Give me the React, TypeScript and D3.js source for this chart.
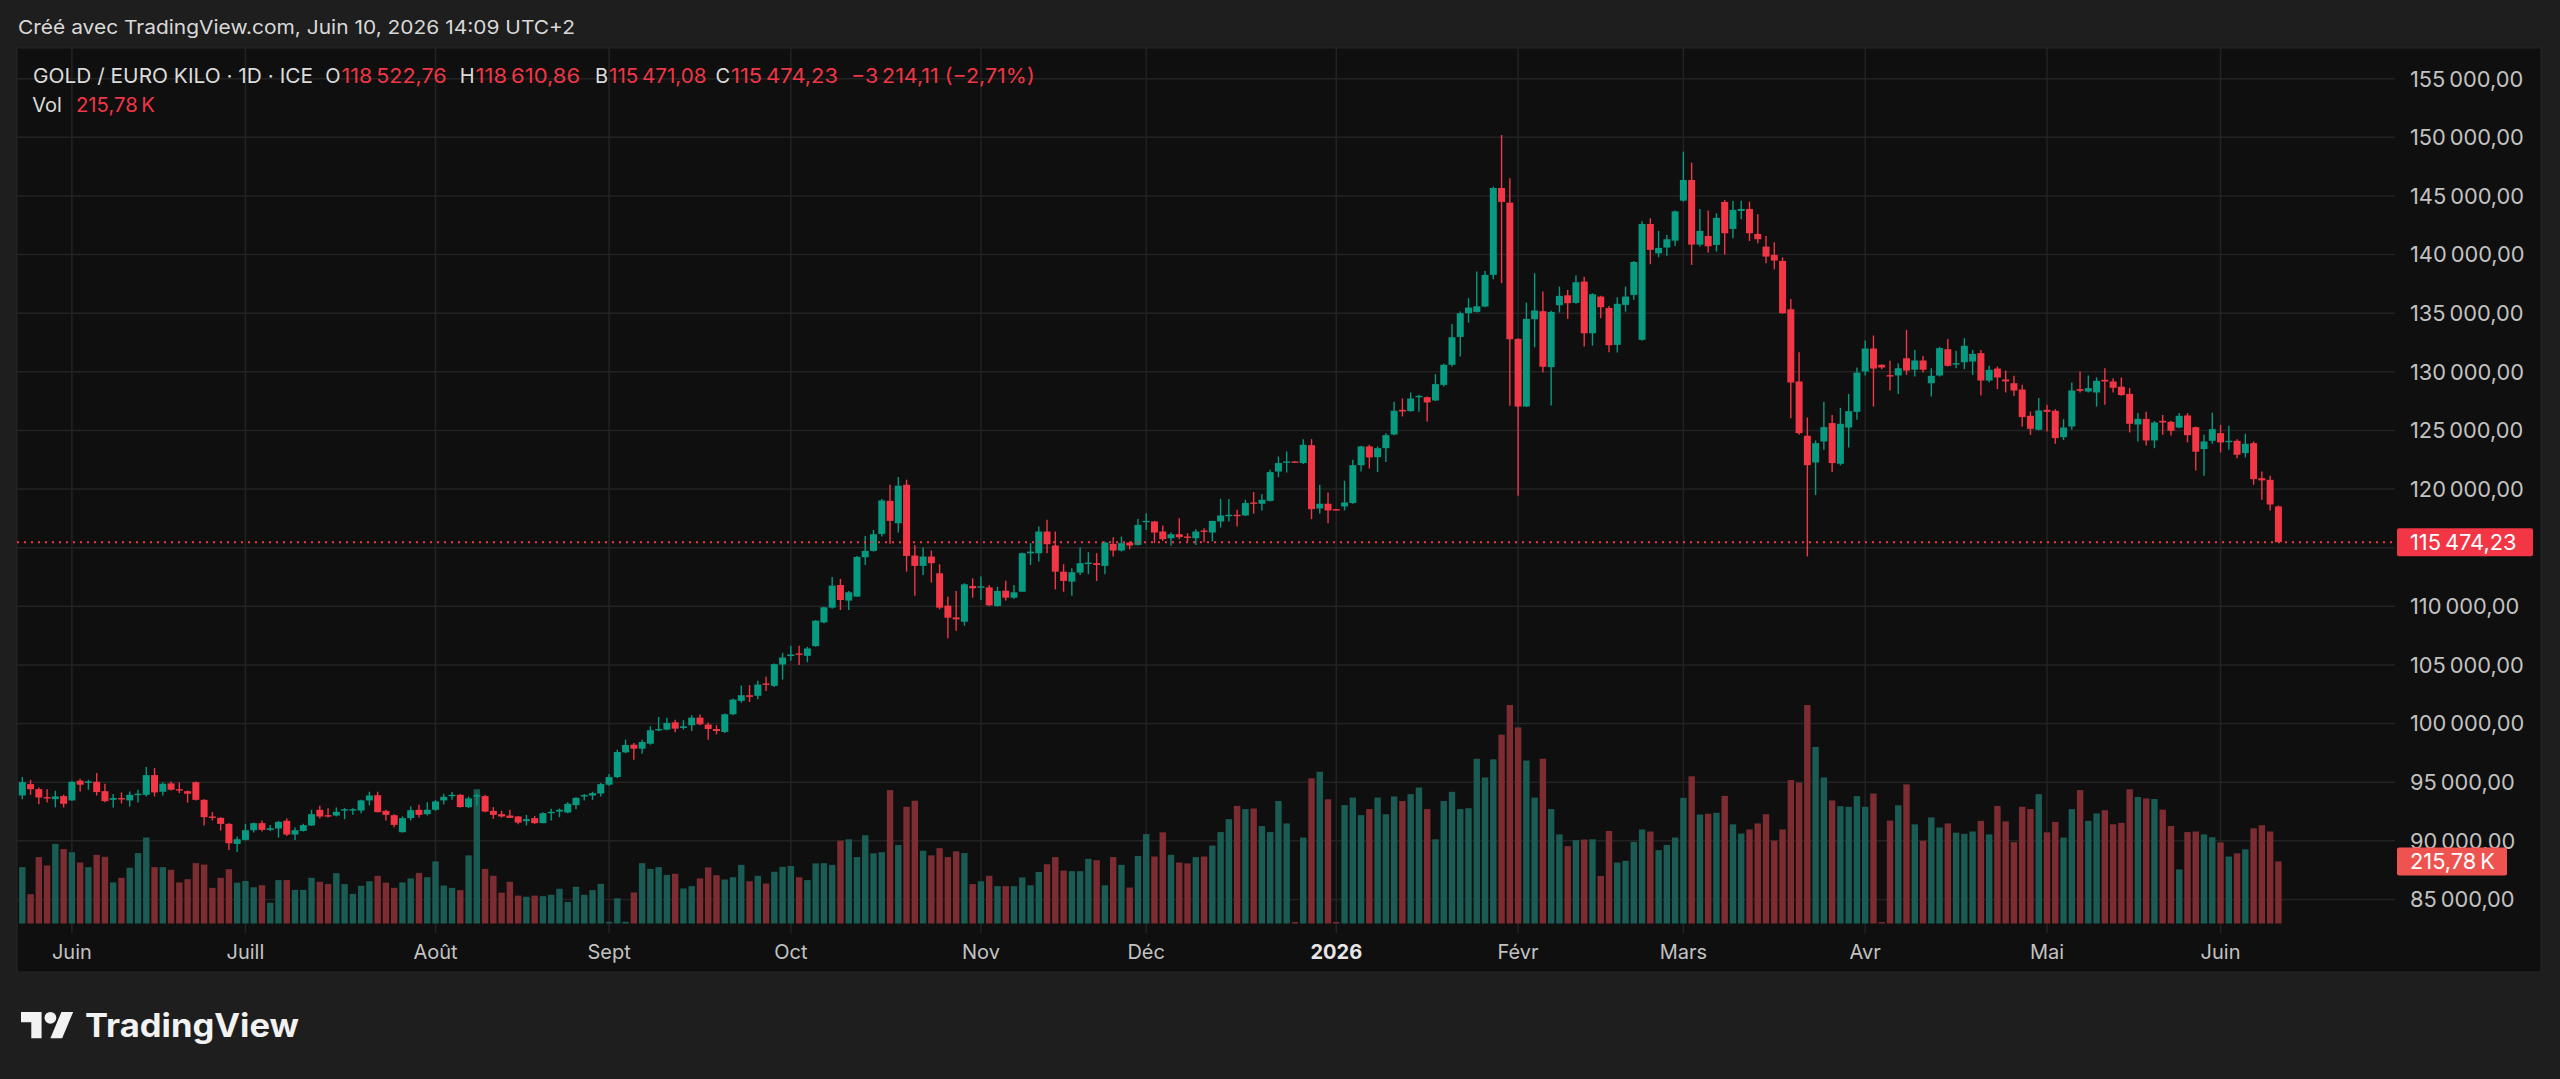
import React from "react";
import * as d3 from "d3";

// ---- Data ----
const opens = [
  93870,94840,94410,93730,93560,93820,93450,95130,94980,95040,
  94240,93500,93650,93450,93930,93930,95610,94190,94900,94410,
  94240,95010,93500,92080,91960,91450,89740,90080,90910,91510,
  90940,91050,91710,90540,90850,91310,92650,92190,92160,92590,
  92650,92590,93450,93900,92560,92190,90740,91940,92650,92280,
  92650,93450,93840,93930,92880,93820,93820,92560,92280,92160,
  92080,91680,91940,91510,92360,92500,92420,93050,93790,93870,
  94040,94790,95440,97550,98200,97860,98290,99430,99490,100110,
  99630,99860,100510,99920,99540,99290,100800,101940,102420,102370,
  103420,103220,105040,105760,105980,105780,106610,108630,109890,111820,
  110490,110830,114190,114730,116180,119000,117090,120370,114330,113450,
  114250,112820,110060,109060,108690,111740,111620,111620,110030,111340,
  110740,111250,114530,114530,116380,115190,112960,112110,112880,113620,
  113680,113450,115330,114760,115440,115240,117180,117240,116380,115810,
  116150,115960,115810,116470,116300,117240,117720,117810,117750,118860,
  118750,119000,121500,122270,122360,122220,123750,118350,118750,118290,
  118520,118810,122040,123640,122730,123490,124660,126760,126650,127840,
  127840,127560,128890,130600,132980,135000,135110,135570,138270,145680,
  144430,132810,127040,134490,135170,130400,135680,136530,135880,137700,
  133290,136420,135450,132300,135710,136560,132730,142610,140110,140600,
  141190,144600,146360,140850,141590,140820,144490,142190,143720,143890,
  141760,140680,139970,139460,135340,129180,124550,122270,124060,125630,
  122160,125250,126590,130030,131990,130600,129720,129690,131160,130180,
  130970,129030,129690,131930,130620,130820,130880,131590,129260,130280,
  129350,129030,128490,126250,125060,126760,126680,124430,125340,128520,
  128320,128240,129320,129180,128730,128120,125510,125990,124150,125820,
  125740,125250,126280,125280,123410,124120,124770,124010,124120,123070,
  123920,120930,120790,118522.76,
];
const highs = [
  95440,95210,94560,94410,94270,93930,95130,95300,95210,95780,
  94870,93990,94130,94220,94360,96300,96210,95010,95070,94980,
  94300,95070,93560,92470,92020,91510,90370,91450,91560,91740,
  91360,91710,91910,91140,91450,92650,92990,92790,92850,92790,
  92790,93500,94190,94190,92650,92280,92080,92930,93080,93300,
  93500,94020,94160,93990,93790,94070,93930,92880,92560,92650,
  92130,92220,92130,92450,92730,92760,93300,93730,93990,94190,
  94930,95700,97780,98630,98350,98630,99770,100570,100490,100340,
  100290,100710,100770,100090,99860,100860,102140,103250,103280,103650,
  103990,105130,106040,106640,106640,106550,108830,109970,112510,112340,
  111310,114300,116010,116520,119150,120370,121030,120800,115240,115010,
  114760,113590,110830,111310,111970,112390,112540,111820,111680,112190,
  111820,114590,115390,116810,117380,116380,113590,113250,115010,114620,
  114530,115530,115900,115960,115530,117440,117950,117290,116900,116300,
  117520,116240,116580,116670,117290,119170,119150,118230,119090,119740,
  119570,121650,122780,123210,122380,124260,124260,120370,119720,118300,
  120710,122500,123690,123780,123640,124770,127460,127730,128240,128040,
  127900,129800,130680,134090,135140,136280,138550,138610,145800,150200,
  146510,132870,135910,138410,136850,135200,137270,136990,138210,138120,
  136700,136500,135620,136360,137270,139450,142840,143100,142020,141680,
  143750,148780,147840,143890,143750,143520,144660,144570,144600,144520,
  143440,141590,141050,139770,136220,131680,126110,124150,127440,126330,
  126930,128120,130370,132670,133100,130650,130940,130740,133580,131870,
  131360,130310,132130,132810,131790,132870,131870,131870,130510,130450,
  130110,129660,128890,126620,127760,127190,126820,125970,129090,130030,
  129690,129520,130310,129460,129520,128610,126480,126590,125820,126330,
  125820,126480,126480,125340,124630,126530,125480,125400,124260,124720,
  124060,121510,121140,118610.86,
];
const lows = [
  93560,93930,93130,93270,92850,92850,93420,94220,94360,93870,
  93300,92850,93190,92930,93270,93790,93790,93870,94300,94070,
  93270,93450,91310,91740,90880,89230,89060,90030,90710,90800,
  90850,90280,90420,90080,90800,91280,91910,91990,92080,91850,
  92220,92360,93020,92420,91740,91170,90710,91740,91990,92160,
  92560,93100,93500,92850,92790,93020,92450,91880,91990,91940,
  91420,91310,91450,91510,91740,92020,92360,92700,93450,93500,
  93790,94700,95360,97490,96920,97440,98200,99350,99430,99260,
  99490,99370,99860,98630,99090,99200,100710,101770,101850,102080,
  102790,103130,103760,105360,104990,105240,106550,108550,109800,109690,
  109690,110830,113530,114670,115960,115330,116300,112960,110910,112680,
  112020,109740,107270,107920,108350,110740,110540,110030,109970,110490,
  110630,111250,113530,113820,114530,111450,111250,110910,112680,112740,
  112170,112740,114250,114670,114870,115190,116520,115390,115580,115160,
  115730,115530,115240,115470,115530,116720,117240,116810,117700,117910,
  118180,118950,121020,121420,122250,122150,117440,117910,117080,118200,
  118180,118750,121500,121760,121450,122320,124600,126190,126600,126590,
  125770,127500,128750,130450,131310,134200,135060,135500,137900,137560,
  127100,119430,127000,132100,129940,127130,135060,134520,135800,132160,
  132240,134570,131680,131650,135140,136140,132650,139180,139770,139910,
  140740,144520,139120,140680,140170,140260,140000,141390,143010,141160,
  140970,139260,138750,134950,126050,124630,114260,119490,123350,121450,
  122020,123550,125910,129690,127040,130230,128410,128120,129740,129600,
  129940,127900,129600,130450,130310,130230,129740,127980,129120,128520,
  128240,127930,125340,124620,125000,124910,123860,124180,125060,128240,
  128240,127040,127190,128240,127960,124830,124060,123720,123490,124630,
  124570,125200,123980,121590,121140,123860,123120,123350,122640,122700,
  120370,119090,118180,115471.08,
];
const closes = [
  95010,94410,93700,93620,93790,93160,95040,94790,95070,94160,
  93390,93650,93560,93930,94020,95610,94130,94870,94360,94300,
  94020,93500,92020,91990,91450,89800,90140,90910,91510,90940,
  91080,91620,90540,90910,91340,92280,92080,92080,92480,92700,
  92700,93450,93870,92450,92220,91360,91940,92620,92220,92650,
  93360,93760,93930,92880,93620,93900,92500,92220,92080,91960,
  91560,91850,91510,92360,92480,92650,93160,93670,93900,94070,
  94840,95440,97580,98180,97860,98430,99430,99540,100060,99570,
  99770,100510,99940,99540,99370,100800,102050,102420,102280,103330,
  103330,105070,105640,105900,105870,106410,108780,109920,111770,110540,
  111200,114220,114730,116150,119030,117290,120290,114300,113450,114250,
  113680,109890,109030,108890,111880,111540,111710,110090,111310,110740,
  111200,114530,114670,116380,115300,112960,112170,112910,113680,113730,
  113530,115440,114760,115390,115190,116950,117290,116300,115730,116150,
  115900,115870,116380,116380,117290,117750,117810,117720,118810,118750,
  119090,121450,122220,122360,122270,123780,118290,118750,118180,118210,
  118860,122040,123640,122700,123490,124600,126680,126620,127730,127950,
  127390,128950,130600,132950,135000,135480,135590,138270,145680,144490,
  132780,127040,134520,135230,130430,135110,136480,135850,137640,133290,
  136620,135510,132270,135800,136420,139370,142610,140400,140570,141310,
  143690,146360,140850,142020,140710,143130,141820,143810,143890,141820,
  141310,139830,139490,135000,129090,124770,122040,123920,125280,122220,
  125570,126650,129940,131990,130280,130370,129600,130310,130110,130970,
  130180,129660,132020,130510,130740,132220,131530,129260,130170,129520,
  129180,128410,126140,125140,126700,126590,124350,125250,128410,128380,
  128610,129230,129180,128640,128020,125570,125990,124150,125680,125680,
  124970,126250,124600,123190,124060,125110,123980,124120,122930,123860,
  120850,120740,118688.34,115474.23,
];
// volume in thousands
const volumesK = [
  196,102,231,202,277,259,248,212,196,239,
  232,143,159,194,245,299,196,196,187,143,
  154,210,205,124,159,189,142,148,126,133,
  72,151,151,117,117,159,145,137,175,137,
  103,131,147,166,142,124,143,157,176,161,
  216,132,124,116,237,467,190,166,107,145,
  97,93,97,95,100,121,75,128,100,116,
  138,6,88,6,108,210,190,196,169,173,
  122,130,157,195,168,153,161,204,147,166,
  139,180,197,200,161,151,209,210,204,288,
  293,231,307,244,248,464,273,406,427,253,
  237,262,231,251,245,137,147,166,130,130,
  130,160,133,179,206,231,184,182,182,225,
  220,133,231,204,125,235,311,233,317,239,
  212,209,231,233,271,318,363,409,398,400,
  339,318,426,348,5,299,505,528,432,5,
  412,438,377,398,438,380,442,426,450,473,
  398,293,426,458,398,401,573,508,571,657,
  760,682,567,438,573,398,310,269,290,292,
  293,165,322,212,218,284,327,320,255,273,
  299,437,512,379,382,385,444,345,313,327,
  348,380,288,327,499,490,760,614,508,428,
  408,406,443,406,452,5,358,411,484,345,
  288,369,334,348,316,312,320,357,310,409,
  355,283,406,398,450,317,353,299,398,464,
  357,383,394,345,350,467,440,435,433,396,
  339,188,318,320,310,300,282,233,244,258,
  331,342,320,215.78,
];
const monthLabels = ["Juin","Juill","Août","Sept","Oct","Nov","Déc","2026","Févr","Mars","Avr","Mai","Juin"];
const priceTicks = [85000,90000,95000,100000,105000,110000,115000,120000,125000,130000,135000,140000,145000,150000,155000];
const firstDay = new Date(2025, 4, 23);
const lastDay = new Date(2026, 5, 10);

const FONT = "Inter, 'Noto Sans', 'Liberation Sans', sans-serif";
const UP = "#089981";
const DOWN = "#f23645";
const VOL_UP = "#1a5b53";
const VOL_DOWN = "#7d2d31";
const GRID = "#232323";

const fr = d3.formatLocale({ decimal: ",", thousands: "\u202f", grouping: [3], currency: ["", ""], minus: "\u2212" });
const fmt2 = fr.format(",.2f");

export default function App() {
  const dates = d3.timeDay
    .range(firstDay, d3.timeDay.offset(lastDay, 1))
    .filter((d) => d.getDay() !== 0 && d.getDay() !== 6);
  const n = closes.length;

  const x = d3.scaleLinear().domain([0, n - 1]).range([22.3, 2278.4]);
  const y = d3.scaleLinear().domain([85000, 155000]).range([899.5, 78.7]);
  const yv = d3.scaleLinear().domain([0, 760]).range([923.5, 705]);

  const monthIdx: number[] = [];
  for (let i = 1; i < dates.length; i++) {
    if (dates[i].getMonth() !== dates[i - 1].getMonth()) monthIdx.push(i);
  }

  const plotLeft = 17, plotRight = 2395, plotTop = 48, plotBottom = 933;
  const last = n - 1;
  const lastClose = closes[last];
  const change = lastClose - closes[last - 1];
  const pct = (change / closes[last - 1]) * 100;
  const yLast = y(lastClose);
  const yVolLast = yv(volumesK[last]);

  const candleW = 7;
  const volW = 6.4;
  const axisFs = 21.8;

  // TradingView hides the axis label hidden behind the last-price label
  const visibleTicks = priceTicks.filter((p) => Math.abs(y(p) - yLast) > 16);

  const hdrY = 82.5;
  const pairs = [
    { k: "O", x: 341.6, v: opens[last], w: 105 },
    { k: "H", x: 475.6, v: highs[last], w: 104.5 },
    { k: "B", x: 609, v: lows[last], w: 97.5 },
    { k: "C", x: 731, v: lastClose, w: 107 },
  ];

  return (
    <div style={{ position: "absolute", left: 0, top: 0, width: 2560, height: 1079 }}>
      <svg width={2560} height={1079} style={{ display: "block", fontFamily: FONT }}>
        <rect x={0} y={0} width={2560} height={1079} fill="#1e1e1e" />
        <text x={18} y={34.3} fontSize={19} fill="#d8d8d8" textLength={557} lengthAdjust="spacingAndGlyphs">
          Créé avec TradingView.com, Juin 10, 2026 14:09 UTC+2
        </text>

        <rect x={17} y={48} width={2524} height={924} fill="#0f0f0f" stroke="#262626" strokeWidth={1} />

        {/* grid */}
        <g>
          {priceTicks.map((p) => (
            <line key={"h" + p} x1={plotLeft} x2={plotRight} y1={y(p)} y2={y(p)} stroke={GRID} strokeWidth={1.5} />
          ))}
          {monthIdx.map((i) => (
            <line key={"v" + i} x1={x(i)} x2={x(i)} y1={plotTop} y2={plotBottom} stroke={GRID} strokeWidth={1.5} />
          ))}
        </g>

        {/* volume */}
        <g>
          {volumesK.map((v, i) => (
            <rect
              key={"vol" + i}
              x={x(i) - volW / 2}
              y={yv(v)}
              width={volW}
              height={Math.max(yv(0) - yv(v), 1)}
              fill={closes[i] >= opens[i] ? VOL_UP : VOL_DOWN}
            />
          ))}
        </g>

        {/* candles */}
        <g>
          {closes.map((c, i) => {
            const o = opens[i];
            const col = c >= o ? UP : DOWN;
            const top = y(Math.max(o, c));
            const bot = y(Math.min(o, c));
            return (
              <g key={"c" + i}>
                <line x1={x(i)} x2={x(i)} y1={y(highs[i])} y2={y(lows[i])} stroke={col} strokeWidth={1.4} />
                <rect x={x(i) - candleW / 2} y={top} width={candleW} height={Math.max(bot - top, 1.4)} fill={col} />
              </g>
            );
          })}
        </g>

        {/* last price line */}
        <line x1={plotLeft} x2={plotRight} y1={yLast} y2={yLast} stroke={DOWN} strokeWidth={2} strokeDasharray="2 5" />

        {/* price axis labels */}
        <g>
          {visibleTicks.map((p) => (
            <text key={"pl" + p} x={2410} y={y(p)} dy="0.36em" fontSize={axisFs} fill="#c2c2c2">
              {fmt2(p)}
            </text>
          ))}
        </g>
        <rect x={2397} y={yLast - 14} width={136} height={28} rx={2} fill={DOWN} />
        <text x={2410} y={yLast} dy="0.36em" fontSize={axisFs} fill="#ffffff">{fmt2(lastClose)}</text>
        <rect x={2397} y={yVolLast - 14} width={110} height={28} rx={2} fill="#ef5350" />
        <text x={2410} y={yVolLast} dy="0.36em" fontSize={axisFs} fill="#ffffff">{fr.format(",.2f")(volumesK[last]) + "\u202fK"}</text>

        {/* x axis labels */}
        <g>
          {monthIdx.map((i, k) => (
            <text
              key={"xl" + i}
              x={x(i)}
              y={958.5}
              fontSize={20}
              textAnchor="middle"
              fontWeight={monthLabels[k] === "2026" ? 700 : 400}
              fill={monthLabels[k] === "2026" ? "#e6e6e6" : "#c2c2c2"}
            >
              {monthLabels[k]}
            </text>
          ))}
        </g>

        {/* legend header */}
        <g fontSize={20}>
          <text x={33} y={hdrY} fill="#dcdcdc" textLength={280} lengthAdjust="spacingAndGlyphs">GOLD / EURO KILO · 1D · ICE</text>
          {pairs.map((p) => (
            <g key={p.k}>
              <text x={p.x - 1} y={hdrY} fill="#dcdcdc" textAnchor="end">{p.k}</text>
              <text x={p.x} y={hdrY} fill={DOWN} textLength={p.w} lengthAdjust="spacingAndGlyphs">{fmt2(p.v)}</text>
            </g>
          ))}
          <text x={851} y={hdrY} fill={DOWN} textLength={183.7} lengthAdjust="spacingAndGlyphs">
            {fmt2(change) + " (" + fr.format(".2f")(pct) + "%)"}
          </text>
          <text x={32.3} y={111.5} fill="#dcdcdc">Vol</text>
          <text x={76} y={111.5} fill={DOWN} textLength={79} lengthAdjust="spacingAndGlyphs">
            {fr.format(",.2f")(volumesK[last]) + "\u202fK"}
          </text>
        </g>

        {/* TradingView logo */}
        <g transform="translate(21,1006) scale(1.47)" fill="#f2f2f2">
          <path d="M14 22H7V11H0V4h14v18zM28 22h-8l7.5-18h8L28 22z" />
          <circle cx={20} cy={8} r={4} />
        </g>
        <text x={85} y={1036.5} fontSize={32} fontWeight={700} fill="#f2f2f2" textLength={214} lengthAdjust="spacingAndGlyphs">
          TradingView
        </text>
      </svg>
    </div>
  );
}
